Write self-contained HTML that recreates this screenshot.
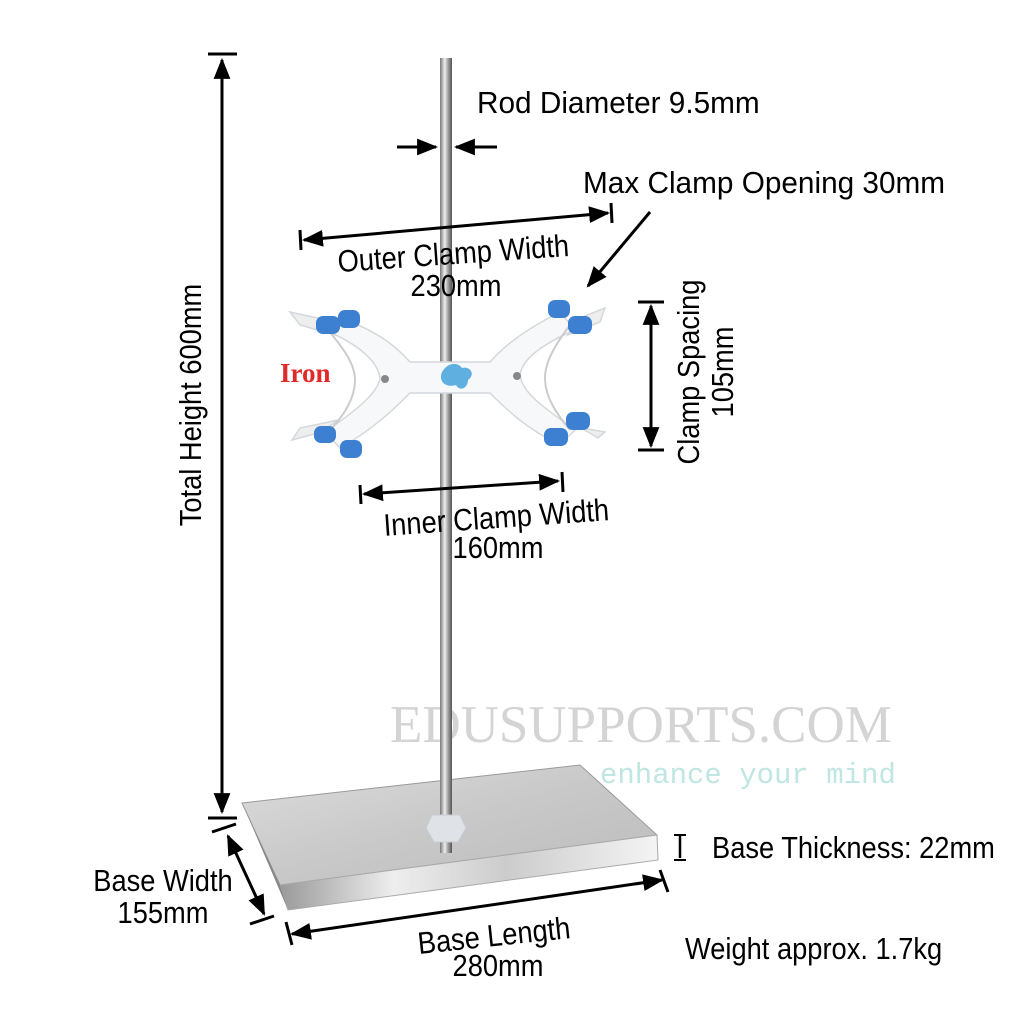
<!DOCTYPE html>
<html><head><meta charset="utf-8"><style>html,body{margin:0;padding:0;background:#fff}svg{display:block}</style></head><body>
<svg width="1024" height="1024" viewBox="0 0 1024 1024" xmlns="http://www.w3.org/2000/svg">
<defs>
<marker id="a" viewBox="0 0 10 10" refX="9" refY="5" markerWidth="7" markerHeight="7" orient="auto-start-reverse"><path d="M0,1 L10,5 L0,9 Z" fill="#000"/></marker>
<linearGradient id="rod" x1="0" x2="1"><stop offset="0" stop-color="#777"/><stop offset=".4" stop-color="#eee"/><stop offset=".7" stop-color="#999"/><stop offset="1" stop-color="#555"/></linearGradient>
<linearGradient id="top" x1="0" y1="0" x2="1" y2="1"><stop offset="0" stop-color="#dcdcdc"/><stop offset=".5" stop-color="#c8c8c8"/><stop offset="1" stop-color="#bcbcbc"/></linearGradient>
<linearGradient id="front" x1="0" x2="1"><stop offset="0" stop-color="#999"/><stop offset=".3" stop-color="#eee"/><stop offset=".6" stop-color="#ccc"/><stop offset="1" stop-color="#f4f4f4"/></linearGradient>
</defs>
<rect width="1024" height="1024" fill="#fff"/>
<text x="390" y="742" font-family="Liberation Serif, serif" font-size="53" fill="#d4d4d4">EDUSUPPORTS.COM</text>
<text x="600" y="783" font-family="Liberation Mono, monospace" font-size="29" fill="#bfe6e2">enhance your mind</text>
<polygon points="242,803 580,765 657,835 280,885" fill="url(#top)" stroke="#999" stroke-width="1"/>
<polygon points="280,885 657,835 658,860 288,910" fill="url(#front)" stroke="#aaa" stroke-width="1"/>
<polygon points="242,803 280,885 288,910 246,812" fill="#888"/>
<rect x="440" y="58" width="12" height="795" fill="url(#rod)"/>
<path d="M432,815 L460,815 L466,828 L458,842 L434,842 L426,828 Z" fill="#dfe3e8" stroke="#c8ccd2"/>
<g stroke="#d4d8dd" stroke-width="1.5" fill="#f7f8fa">
<path d="M290,312 L318,318 L335,335 L300,325 Z" fill="#eee"/>
<path d="M292,440 L322,432 L338,420 L300,428 Z" fill="#eee"/>
<path d="M605,308 L580,318 L568,335 L600,322 Z" fill="#eee"/>
<path d="M605,432 L582,428 L568,420 L598,438 Z" fill="#eee"/>
<path d="M340,318 C375,330 395,345 410,362 L490,362 C505,345 525,330 560,312 L575,330 C540,345 522,360 520,375 C522,392 540,405 575,430 L560,445 C525,428 505,408 490,393 L410,393 C395,408 375,428 340,448 L325,432 C360,408 378,392 380,378 C378,362 360,345 325,330 Z"/>
</g>
<path d="M328,330 C345,350 355,365 355,380 C355,398 345,415 328,432" fill="none" stroke="#ccc" stroke-width="2"/>
<path d="M570,325 C555,345 545,362 545,378 C545,396 555,412 570,430" fill="none" stroke="#ccc" stroke-width="2"/>
<circle cx="385" cy="379" r="4" fill="#888"/><circle cx="517" cy="376" r="4" fill="#888"/>
<path d="M442,372 C448,362 458,362 462,368 C470,366 476,374 468,380 C468,388 460,392 456,385 C446,388 438,382 442,372 Z" fill="#5fb0e0"/>
<g fill="#3d7fd0">
<rect x="316" y="316" width="24" height="18" rx="7"/><rect x="338" y="310" width="22" height="18" rx="7"/>
<rect x="314" y="426" width="22" height="17" rx="7"/><rect x="340" y="440" width="22" height="18" rx="7"/>
<rect x="548" y="300" width="22" height="18" rx="7"/><rect x="568" y="316" width="24" height="18" rx="7"/>
<rect x="566" y="412" width="24" height="18" rx="7"/><rect x="544" y="428" width="24" height="18" rx="7"/>
</g>
<text x="280" y="382" font-family="Liberation Serif, serif" font-weight="bold" font-size="27" fill="#e02a2a">Iron</text>
<g stroke="#000" stroke-width="3" fill="none">
<line x1="222" y1="60" x2="222" y2="812" marker-start="url(#a)" marker-end="url(#a)"/>
<line x1="208" y1="54" x2="237" y2="54"/><line x1="208" y1="818" x2="237" y2="818"/>
<line x1="397" y1="147" x2="436" y2="147" marker-end="url(#a)"/>
<line x1="497" y1="147" x2="456" y2="147" marker-end="url(#a)"/>
<line x1="304" y1="240" x2="608" y2="213" marker-start="url(#a)" marker-end="url(#a)"/>
<line x1="300" y1="230" x2="301" y2="250"/><line x1="611" y1="203" x2="612" y2="223"/>
<line x1="651" y1="306" x2="651" y2="446" marker-start="url(#a)" marker-end="url(#a)"/>
<line x1="638" y1="302" x2="664" y2="302"/><line x1="638" y1="450" x2="664" y2="450"/>
<line x1="364" y1="494" x2="558" y2="481" marker-start="url(#a)" marker-end="url(#a)"/>
<line x1="360" y1="485" x2="361" y2="504"/><line x1="562" y1="472" x2="563" y2="492"/>
<line x1="650" y1="212" x2="588" y2="286" marker-end="url(#a)"/>
<line x1="228" y1="836" x2="264" y2="914" marker-start="url(#a)" marker-end="url(#a)"/>
<line x1="212" y1="832" x2="236" y2="824"/><line x1="250" y1="924" x2="274" y2="916"/>
<line x1="292" y1="934" x2="662" y2="880" marker-start="url(#a)" marker-end="url(#a)"/>
<line x1="286" y1="922" x2="292" y2="945"/><line x1="660" y1="870" x2="668" y2="892"/>
<line x1="680" y1="836" x2="680" y2="858" stroke-width="2.5"/>
<line x1="674" y1="835" x2="686" y2="835" stroke-width="2"/><line x1="674" y1="860" x2="686" y2="860" stroke-width="2"/>
</g>
<g font-family="Liberation Sans, sans-serif" font-size="31" fill="#000">
<text transform="translate(477 113) scale(0.96 1)">Rod Diameter 9.5mm</text>
<text transform="translate(583 193) scale(0.96 1)">Max Clamp Opening 30mm</text>
<text text-anchor="middle" transform="translate(454 264) rotate(-4) scale(0.88 1)">Outer Clamp Width</text>
<text text-anchor="middle" transform="translate(456 296) scale(0.88 1)">230mm</text>
<text text-anchor="middle" transform="translate(699 372) rotate(-90) scale(0.88 1)">Clamp Spacing</text>
<text text-anchor="middle" transform="translate(733 372) rotate(-90) scale(0.88 1)">105mm</text>
<text text-anchor="middle" transform="translate(497 528) rotate(-4) scale(0.88 1)">Inner Clamp Width</text>
<text text-anchor="middle" transform="translate(498 558) scale(0.88 1)">160mm</text>
<text text-anchor="middle" transform="translate(201 405) rotate(-90) scale(0.88 1)">Total Height 600mm</text>
<text text-anchor="middle" transform="translate(163 891) scale(0.88 1)">Base Width</text>
<text text-anchor="middle" transform="translate(163 923) scale(0.88 1)">155mm</text>
<text text-anchor="middle" transform="translate(495 946) rotate(-6) scale(0.88 1)">Base Length</text>
<text text-anchor="middle" transform="translate(498 976) scale(0.88 1)">280mm</text>
<text transform="translate(712 858) scale(0.88 1)">Base Thickness: 22mm</text>
<text transform="translate(685 959) scale(0.88 1)">Weight approx. 1.7kg</text>
</g>
</svg>
</body></html>
